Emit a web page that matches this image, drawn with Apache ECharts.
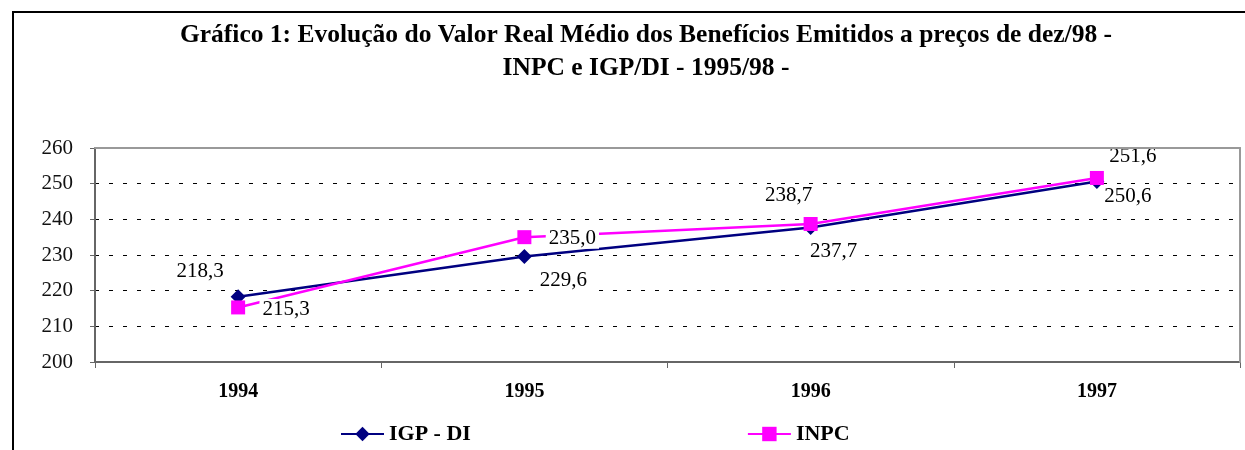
<!DOCTYPE html>
<html>
<head>
<meta charset="utf-8">
<script src="https://cdn.jsdelivr.net/npm/echarts@6/dist/echarts.min.js"></script>
<style>
    html, body { margin: 0; padding: 0; background: #fff; }
    #wrap { position: relative; width: 1245px; height: 450px; }
    #frame {
        position: absolute; left: 12px; top: 11px; right: 0; bottom: 0;
        border-top: 2px solid #000; border-left: 2px solid #000;
        pointer-events: none;
    }
    #chart { width: 1245px; height: 450px; }
</style>
</head>
<body>
<div id="wrap">
    <div id="chart"></div>
    <div id="frame"></div>
</div>
<script>
    // dados
    let anos = ['1994', '1995', '1996', '1997'];
    let igpDi = [218.3, 229.6, 237.7, 250.6];
    let inpc = [215.3, 235.0, 238.7, 251.6];

    // deslocamento dos rótulos (px)
    let offIgp = [[-38, -25], [39, 24], [23, 24], [31, 15]];
    let offInpc = [[48, 2], [48, 1], [-22, -28], [36, -21]];

    let serif = '"Liberation Serif", "Times New Roman", serif';

    function fmt(v) {
        return v.toFixed(1).replace('.', ',');
    }

    function pontos(vals, offs) {
        return vals.map(function (v, i) {
            return {
                value: v,
                label: { offset: offs[i] }
            };
        });
    }

    let labelBase = {
        show: true,
        position: 'inside',
        fontFamily: serif,
        fontSize: 21,
        color: '#000',
        backgroundColor: '#fff',
        padding: [0, 3],
        formatter: function (p) { return fmt(p.value); }
    };

    let chart = echarts.init(document.getElementById('chart'));
    chart.setOption({
        animation: false,
        title: {
            text: 'Gráfico 1: Evolução do Valor Real Médio dos Benefícios Emitidos a preços de dez/98 -\nINPC e IGP/DI - 1995/98 -',
            left: 641,
            top: 14,
            textAlign: 'center',
            textStyle: {
                fontFamily: serif,
                fontWeight: 'bold',
                fontSize: 25.5,
                lineHeight: 33,
                color: '#000'
            }
        },
        legend: {
            left: 335,
            top: 418,
            itemGap: 276,
            itemWidth: 43,
            itemHeight: 18,
            textStyle: {
                fontFamily: serif,
                fontWeight: 'bold',
                fontSize: 22,
                color: '#000'
            },
            data: ['IGP - DI', 'INPC']
        },
        grid: { left: 95, right: 5, top: 148, bottom: 88 },
        xAxis: [
            {
                type: 'category',
                data: anos,
                boundaryGap: true,
                axisLine: { lineStyle: { color: '#666', width: 2 } },
                axisTick: { show: true, length: 6, lineStyle: { color: '#666' } },
                axisLabel: {
                    margin: 20,
                    fontFamily: serif,
                    fontWeight: 'bold',
                    fontSize: 20,
                    color: '#000'
                }
            },
            {
                type: 'category',
                data: anos,
                position: 'top',
                z: 5,
                axisLine: { lineStyle: { color: '#999', width: 2 } },
                axisTick: { show: false },
                axisLabel: { show: false }
            }
        ],
        yAxis: [
            {
                type: 'value',
                min: 200,
                max: 260,
                interval: 10,
                axisLine: { show: true, lineStyle: { color: '#666', width: 2 } },
                axisTick: { show: true, length: 5, lineStyle: { color: '#666' } },
                axisLabel: {
                    margin: 22,
                    fontFamily: serif,
                    fontSize: 21,
                    color: '#111'
                },
                splitLine: {
                    show: true,
                    lineStyle: { color: '#000', type: [4, 10], width: 1 }
                }
            },
            {
                type: 'value',
                min: 200,
                max: 260,
                interval: 10,
                position: 'right',
                z: 5,
                axisLine: { show: true, lineStyle: { color: '#999', width: 2 } },
                axisTick: { show: false },
                axisLabel: { show: false },
                splitLine: { show: false }
            }
        ],
        series: [
            {
                name: 'IGP - DI',
                type: 'line',
                data: pontos(igpDi, offIgp),
                symbol: 'diamond',
                symbolSize: 15,
                itemStyle: { color: '#000080' },
                lineStyle: { color: '#000080', width: 2.5 },
                label: labelBase,
                z: 3
            },
            {
                name: 'INPC',
                type: 'line',
                data: pontos(inpc, offInpc),
                symbol: 'rect',
                symbolSize: 14,
                itemStyle: { color: '#ff00ff' },
                lineStyle: { color: '#ff00ff', width: 2.5 },
                label: labelBase,
                z: 4
            }
        ]
    });
</script>
</body>
</html>
